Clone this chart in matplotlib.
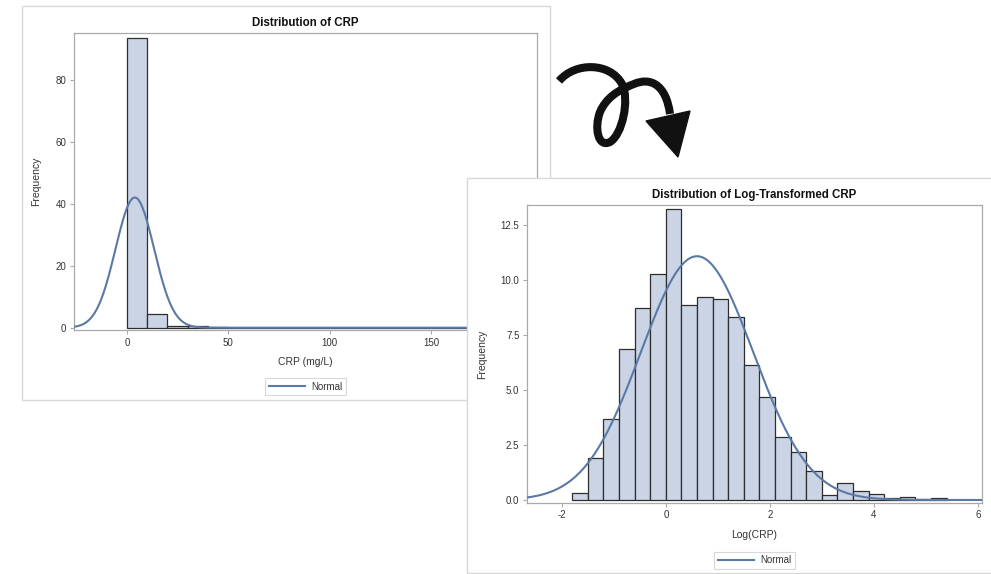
import numpy as np
import matplotlib
matplotlib.use('Agg')
import matplotlib.pyplot as plt
from matplotlib.patches import Rectangle, PathPatch, Polygon
from matplotlib.path import Path

plt.rcParams['font.family'] = ['Liberation Sans', 'DejaVu Sans']
plt.rcParams['axes.unicode_minus'] = False

# CRP (mg/L), percent of patients per 10 mg/L bin
crp_edges = [0, 10, 20, 30, 40, 50, 60, 70, 80, 90, 100, 110, 120, 130, 140, 150, 160, 170, 180, 190, 200]
crp_pct = [93.6, 4.4, 0.55, 0.55, 0.2, 0, 0, 0, 0, 0, 0, 0, 0, 0, 0, 0, 0, 0, 0, 0.1]
crp_mu, crp_sd = 3.9, 9.5

# log(CRP), percent per 0.3 bin
log_edges = [-1.8, -1.5, -1.2, -0.9, -0.6, -0.3, 0.0, 0.3, 0.6, 0.9, 1.2, 1.5, 1.8,
             2.1, 2.4, 2.7, 3.0, 3.3, 3.6, 3.9, 4.2, 4.5, 4.8, 5.1, 5.4]
log_pct = [0.30, 1.89, 3.68, 6.88, 8.73, 10.27, 13.23, 8.85, 9.23, 9.15, 8.30, 6.15,
           4.68, 2.85, 2.20, 1.30, 0.21, 0.76, 0.41, 0.29, 0.08, 0.14, 0.03, 0.08]
log_mu, log_sd = 0.6, 1.08

W, H = 991, 574
FILL = '#cad4e4'
CURVE = '#5b79a6'
FRAME = '#a9a9a9'
TXT = '#333333'


def px_axes(fig, left, top, right, bottom, z):
    return fig.add_axes([left / W, 1 - bottom / H, (right - left) / W, (bottom - top) / H], zorder=z)


def panel(fig, left, top, right, bottom, z):
    r = Rectangle((left / W, 1 - bottom / H), (right - left) / W, (bottom - top) / H,
                  transform=fig.transFigure, facecolor='white', edgecolor='#d8d8d8',
                  lw=1, zorder=z)
    fig.add_artist(r)


def hist_panel(ax, edges, pct, mu, sd, xlim, ylim, xticks, yticks, ylabels,
               title, xlabel, ylabelpad, legend_y):
    edges = np.array(edges, dtype=float)
    width = edges[1] - edges[0]
    ax.bar(edges[:-1], pct, width=width, align='edge', color=FILL,
           edgecolor='#2e2e2e', linewidth=0.9, zorder=2)
    x = np.linspace(xlim[0], xlim[1], 500)
    y = 100 * width * np.exp(-0.5 * ((x - mu) / sd) ** 2) / (sd * np.sqrt(2 * np.pi))
    ax.plot(x, y, color=CURVE, lw=1.5, label='Normal', zorder=3)
    ax.set_xlim(xlim)
    ax.set_ylim(ylim)
    ax.set_xticks(xticks)
    ax.set_yticks(yticks)
    ax.set_yticklabels(ylabels)
    for s in ax.spines.values():
        s.set_color(FRAME)
        s.set_linewidth(0.9)
    ax.tick_params(direction='out', length=3, width=0.8, color=FRAME,
                   labelsize=7, labelcolor=TXT, pad=2.5)
    ax.set_title(title, fontsize=8.3, fontweight='bold', color='#111111', pad=5)
    ax.set_xlabel(xlabel, fontsize=7.5, color=TXT, labelpad=7)
    ax.set_ylabel('Frequency', fontsize=7.5, color=TXT, labelpad=ylabelpad)
    leg = ax.legend(loc='upper center', bbox_to_anchor=(0.5, legend_y), fontsize=7,
                    frameon=True, fancybox=False, handlelength=3.8, borderpad=0.35,
                    handletextpad=0.6, borderaxespad=0)
    leg.get_frame().set_edgecolor('#cfcfcf')
    leg.get_frame().set_linewidth(0.8)
    for t in leg.get_texts():
        t.set_color(TXT)


fig = plt.figure(figsize=(W / 100, H / 100), dpi=100)
fig.patch.set_facecolor('white')

# left panel: raw CRP
panel(fig, 21.7, 5.7, 550, 400, 0)
ax1 = px_axes(fig, 74, 33, 537, 330, 1)
hist_panel(ax1, crp_edges, crp_pct, crp_mu, crp_sd, (-26.1, 202.3), (-0.74, 95.06),
           [0, 50, 100, 150, 200], [0, 20, 40, 60, 80], ['0', '20', '40', '60', '80'],
           'Distribution of CRP', 'CRP (mg/L)', 10, -0.162)

# curly arrow between the panels (pixel coords), loop crosses itself near the top
axa = fig.add_axes([0, 0, 1, 1], zorder=1.5)
axa.set_xlim(0, W)
axa.set_ylim(H, 0)
axa.axis('off')
axa.patch.set_alpha(0)
verts = [(559, 81),
         (575, 62), (610, 62), (622, 84),
         (630, 100), (622, 135), (610, 142),
         (598, 148), (594, 128), (600, 112),
         (606, 98), (618, 90), (634, 84),
         (650, 77), (666, 84), (670, 114)]
codes = [Path.MOVETO] + [Path.CURVE4] * 15
axa.add_patch(PathPatch(Path(verts, codes), facecolor='none', edgecolor='#111111',
                        lw=5.8, capstyle='butt', joinstyle='round'))
axa.add_patch(Polygon([(646, 121), (690, 111), (678, 157)], closed=True,
                      facecolor='#111111', edgecolor='#111111', lw=1))

# right panel: log-transformed CRP
panel(fig, 466.7, 178.3, 995, 572.7, 2)
ax2 = px_axes(fig, 527, 205, 982, 502.7, 3)
hist_panel(ax2, log_edges, log_pct, log_mu, log_sd, (-2.67, 6.08), (-0.123, 13.41),
           [-2, 0, 2, 4, 6], [0, 2.5, 5, 7.5, 10, 12.5],
           ['0.0', '2.5', '5.0', '7.5', '10.0', '12.5'],
           'Distribution of Log-Transformed CRP', 'Log(CRP)', 10, -0.165)

fig.savefig('out.png', dpi=100)
